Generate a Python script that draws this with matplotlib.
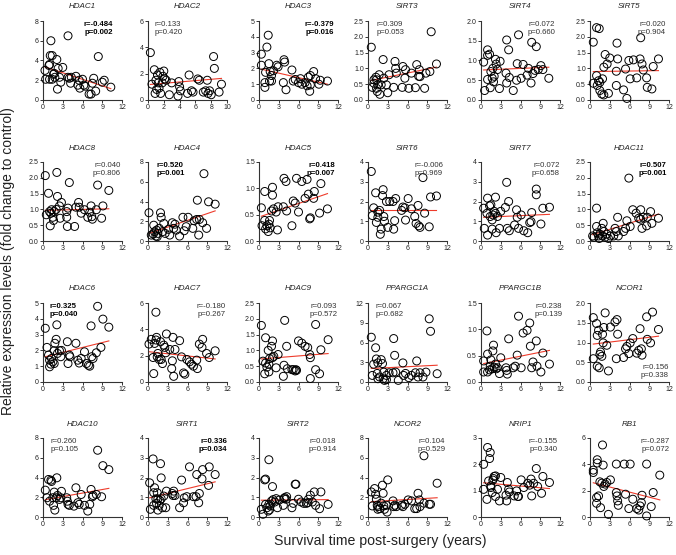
import numpy as np
import matplotlib
matplotlib.use("Agg")
from matplotlib import pyplot as plt
from matplotlib.ticker import FormatStrFormatter

plt.rcParams['font.family'] = ['Liberation Sans', 'DejaVu Sans']

# ---- data (survival years vs fold change) ----
HDAC1_X = [0.3, 0.4, 0.9, 1.0, 1.1, 1.2, 1.4, 1.0, 1.4, 1.6, 1.7, 1.8, 2.1, 2.2, 2.3, 2.5, 2.7, 3.0, 3.8, 3.8,
           4.0, 4.2, 4.3, 5.0, 5.3, 5.6, 5.5, 6.0, 6.4, 7.0, 7.3, 7.5, 7.7, 8.0, 8.4, 9.0, 9.3, 10.3, 6.2]
HDAC1_Y = [3.0, 2.1, 3.5, 3.6, 4.5, 6.0, 4.5, 2.1, 2.1, 2.6, 2.7, 2.3, 4.1, 1.1, 3.2, 2.3, 1.8, 3.3, 6.5, 2.3,
           2.2, 1.7, 2.3, 2.4, 1.5, 1.2, 2.0, 2.1, 1.4, 0.6, 0.6, 1.7, 2.2, 0.9, 4.4, 1.8, 2.0, 1.3, 1.5]

HDAC2_X = [0.3, 0.5, 0.8, 0.9, 1.0, 1.1, 1.2, 1.3, 1.4, 1.5, 1.6, 1.8, 1.9, 2.0, 2.1, 2.3, 2.7, 3.0, 3.8, 3.9,
           4.0, 4.1, 5.0, 5.2, 5.5, 5.7, 6.3, 6.5, 7.3, 7.5, 7.6, 7.8, 8.0, 8.3, 8.4, 9.0, 9.3, 7.0]
HDAC2_Y = [3.6, 1.2, 2.3, 0.5, 1.5, 0.8, 1.9, 1.3, 0.9, 2.1, 0.5, 1.3, 1.8, 2.2, 1.6, 1.5, 0.4, 1.3, 0.3, 1.4,
           1.0, 0.7, 0.5, 1.9, 0.7, 0.6, 1.6, 1.5, 0.7, 1.5, 0.5, 0.7, 0.4, 3.3, 2.4, 0.6, 1.2, 0.6]

HDAC3_X = [0.36, 0.36, 1.4, 1.2, 1.5, 1.0, 0.9, 0.9, 1.6, 1.7, 1.9, 2.2, 2.7, 2.9, 3.8, 3.9, 3.7, 4.1, 5.0, 5.2,
           5.5, 6.0, 6.3, 6.5, 7.0, 7.3, 7.5, 7.8, 7.7, 8.3, 8.6, 9.1, 9.3, 10.4, 1.9, 7.8]
HDAC3_Y = [2.9, 2.2, 4.1, 3.35, 2.3, 1.75, 1.1, 0.8, 1.2, 1.8, 1.55, 1.85, 2.2, 2.1, 2.55, 2.4, 1.1, 0.65, 1.9, 1.2,
           1.3, 1.1, 1.35, 1.0, 1.1, 0.9, 1.45, 1.55, 0.55, 1.8, 1.35, 1.0, 1.25, 1.2, 1.2, 0.95]

SIRT3_X = [0.5, 0.66, 1.2, 1.3, 1.5, 1.4, 1.8, 2.0, 2.3, 2.4, 2.8, 3.2, 3.0, 4.1, 4.2, 4.3, 3.9, 5.2, 5.3, 5.6,
           5.7, 6.2, 6.6, 7.2, 7.4, 7.7, 7.8, 7.9, 8.6, 8.8, 9.4, 9.6, 10.4, 0.9, 0.9, 1.3, 1.7]
SIRT3_Y = [1.67, 0.4, 0.72, 0.64, 0.48, 0.27, 0.18, 0.48, 1.28, 0.69, 0.48, 0.8, 0.23, 1.22, 1.0, 0.85, 0.4, 0.4, 1.06, 0.69,
           0.96, 0.37, 0.85, 0.39, 1.12, 0.75, 0.96, 0.74, 0.37, 0.85, 0.9, 2.16, 1.14, 0.53, 0.64, 0.37, 0.8]

SIRT4_X = [0.4, 0.55, 1.0, 1.0, 1.3, 1.0, 1.4, 1.5, 1.7, 1.8, 1.9, 2.0, 2.2, 2.3, 2.5, 2.9, 2.8, 3.9, 4.2, 3.8,
           3.9, 4.3, 4.9, 5.4, 5.5, 5.7, 6.1, 6.4, 7.0, 7.2, 7.6, 7.7, 7.9, 8.2, 8.4, 8.7, 9.1, 9.4, 10.3]
SIRT4_Y = [0.96, 0.24, 1.27, 1.13, 1.16, 0.52, 0.31, 0.72, 0.55, 0.8, 0.46, 0.6, 1.03, 0.91, 0.77, 0.98, 0.29, 1.52, 1.27, 0.68,
           0.43, 0.57, 0.24, 0.5, 0.92, 1.65, 0.55, 0.9, 0.63, 0.8, 0.43, 1.46, 0.67, 0.75, 1.35, 0.77, 0.87, 0.77, 0.55]

SIRT5_X = [0.5, 1.0, 1.4, 0.5, 1.0, 1.3, 1.1, 1.5, 1.5, 1.8, 2.1, 1.9, 2.1, 2.3, 2.6, 3.0, 2.8, 4.0, 4.1, 4.2,
           4.0, 5.1, 5.4, 5.6, 5.9, 6.1, 6.6, 7.1, 7.6, 7.7, 7.9, 8.1, 8.6, 8.7, 9.4, 9.6, 10.4]
SIRT5_Y = [1.83, 2.29, 2.26, 0.53, 0.77, 0.61, 0.46, 0.56, 0.3, 0.19, 0.16, 0.67, 1.04, 1.44, 1.14, 1.33, 0.21, 0.91, 1.8, 1.3,
           0.46, 0.32, 0.98, 0.05, 1.25, 0.67, 1.27, 0.7, 1.3, 1.97, 1.14, 0.95, 0.7, 0.4, 0.35, 1.06, 1.3]

HDAC8_X = [0.35, 0.5, 0.84, 1.0, 1.1, 1.2, 1.3, 1.5, 1.6, 1.7, 2.0, 2.1, 2.2, 2.5, 2.8, 2.6, 3.6, 3.6, 3.7, 3.8,
           4.0, 4.8, 5.0, 5.4, 5.5, 5.8, 6.3, 6.8, 7.1, 7.3, 7.4, 7.5, 8.1, 8.3, 8.9, 9.1, 10.0]
HDAC8_Y = [2.07, 0.83, 1.51, 0.93, 0.48, 0.88, 0.99, 0.75, 0.65, 0.93, 1.0, 2.17, 1.41, 1.11, 1.22, 0.72, 0.93, 0.75, 0.46, 1.04,
           1.85, 0.46, 1.07, 1.22, 1.07, 0.88, 0.99, 0.75, 0.91, 1.11, 0.77, 0.69, 0.99, 1.77, 0.72, 1.11, 1.6]

HDAC4_X = [0.15, 0.5, 0.87, 0.8, 1.0, 1.2, 1.3, 1.4, 1.5, 1.7, 1.9, 2.0, 2.2, 2.4, 2.6, 3.1, 3.3, 3.7, 3.9, 4.1,
           4.3, 4.8, 5.3, 5.5, 5.8, 6.1, 6.8, 7.0, 7.4, 7.5, 7.8, 7.7, 8.3, 8.5, 8.9, 9.2, 10.2]
HDAC4_Y = [2.86, 0.6, 1.6, 0.7, 0.94, 0.5, 1.1, 0.44, 0.77, 1.28, 2.86, 2.4, 0.94, 1.78, 0.77, 1.18, 0.6, 1.85, 1.28, 1.7,
           1.1, 0.5, 2.4, 1.04, 1.45, 2.4, 1.28, 2.05, 2.18, 4.13, 2.18, 0.6, 1.85, 6.82, 1.28, 3.97, 3.73]

HDAC5_X = [0.36, 0.46, 0.87, 0.87, 1.0, 1.2, 1.4, 1.5, 1.6, 1.7, 1.9, 2.05, 2.05, 2.2, 2.6, 2.8, 2.9, 3.7, 3.8, 4.1,
           4.2, 5.0, 5.2, 5.5, 5.7, 6.0, 6.5, 7.0, 7.3, 7.5, 7.7, 7.8, 8.3, 8.4, 9.2, 9.4, 10.4]
HDAC5_Y = [0.63, 0.29, 0.94, 0.39, 0.23, 0.29, 0.18, 0.32, 0.39, 0.25, 0.57, 0.87, 1.02, 0.61, 0.55, 0.21, 0.65, 0.65, 1.19, 1.13,
           0.57, 0.29, 0.76, 0.72, 1.19, 0.55, 1.13, 0.81, 1.17, 0.89, 0.42, 0.44, 0.81, 0.94, 0.53, 1.09, 0.61]

SIRT6_X = [0.5, 0.66, 0.86, 1.16, 1.27, 1.5, 1.5, 1.77, 1.87, 2.0, 2.2, 2.3, 2.4, 2.5, 2.8, 3.0, 3.3, 3.8, 3.9, 4.05,
           4.2, 5.1, 5.3, 5.6, 5.7, 6.1, 6.6, 7.1, 7.3, 7.6, 7.7, 7.9, 8.35, 8.6, 9.3, 9.5, 10.4]
SIRT6_Y = [3.52, 1.29, 1.68, 2.44, 0.94, 1.2, 1.46, 1.55, 0.34, 0.6, 2.3, 2.6, 1.24, 1.0, 2.0, 0.69, 2.0, 2.0, 0.6, 1.03,
           2.15, 1.55, 1.72, 1.68, 1.06, 2.15, 1.63, 1.24, 0.89, 1.8, 0.77, 0.69, 3.21, 1.41, 0.72, 2.23, 2.28]

SIRT7_X = [0.4, 0.5, 0.9, 1.0, 1.0, 1.3, 1.4, 1.5, 1.7, 1.7, 1.8, 2.0, 2.2, 2.2, 2.3, 2.5, 2.8, 3.0, 3.7, 3.9,
           4.0, 4.2, 4.3, 5.1, 5.4, 5.5, 5.7, 6.1, 6.5, 7.1, 7.4, 7.6, 7.7, 8.4, 8.4, 9.1, 9.4, 10.4]
SIRT7_Y = [1.66, 0.64, 1.4, 2.17, 0.3, 1.78, 1.24, 1.83, 1.07, 0.6, 1.32, 1.5, 2.22, 1.4, 0.42, 1.24, 0.64, 1.5, 1.7, 2.97,
           0.64, 2.0, 0.52, 0.81, 1.58, 1.2, 0.64, 1.32, 0.52, 0.42, 0.93, 0.98, 1.44, 2.63, 2.34, 0.86, 1.66, 1.71]

HDAC11_X = [0.4, 0.6, 1.0, 1.0, 1.1, 1.3, 1.4, 1.5, 1.8, 1.9, 2.0, 2.1, 2.3, 2.55, 2.8, 3.1, 3.6, 3.8, 4.0, 4.2,
            4.3, 5.1, 5.4, 5.6, 5.9, 6.1, 6.5, 7.0, 7.4, 7.7, 7.9, 8.1, 8.6, 8.7, 9.2, 9.4, 10.4, 7.7]
HDAC11_Y = [0.16, 0.12, 1.04, 0.46, 0.26, 0.16, 0.08, 0.22, 0.4, 0.16, 0.56, 0.3, 0.12, 0.22, 0.08, 0.16, 0.16, 0.4, 0.3, 0.75,
            0.16, 0.3, 0.4, 0.64, 1.99, 0.46, 0.99, 0.88, 0.72, 0.99, 0.4, 0.75, 0.48, 0.75, 0.93, 0.56, 0.72, 0.69]

HDAC6_X = [0.35, 0.6, 0.84, 1.0, 1.0, 1.2, 1.3, 1.5, 1.7, 1.7, 1.8, 2.0, 2.1, 2.2, 2.5, 2.7, 2.8, 3.7, 3.8, 4.0,
           4.1, 5.0, 5.3, 5.5, 5.8, 6.3, 6.6, 6.9, 7.1, 7.3, 7.4, 7.6, 8.1, 8.3, 8.8, 9.1, 10.0]
HDAC6_Y = [3.4, 2.19, 1.7, 1.38, 0.96, 1.13, 1.49, 1.28, 1.98, 1.17, 2.45, 2.7, 3.62, 1.81, 1.98, 1.6, 2.0, 2.55, 1.17, 1.7,
           1.6, 2.45, 1.38, 1.2, 1.49, 1.91, 1.17, 1.06, 1.0, 3.55, 1.6, 1.49, 1.85, 4.79, 2.19, 3.98, 3.47]

HDAC7_X = [0.15, 0.5, 0.77, 0.87, 1.0, 1.2, 1.2, 1.3, 1.4, 1.5, 1.7, 1.9, 2.0, 2.2, 2.4, 2.55, 2.7, 2.8, 3.3, 3.6,
           3.7, 3.8, 3.9, 4.1, 4.8, 5.1, 5.4, 5.6, 5.9, 6.3, 6.6, 6.9, 7.4, 7.5, 7.8, 8.2, 8.3, 8.9, 9.3, 10.2]
HDAC7_Y = [2.88, 3.24, 1.86, 0.64, 2.93, 3.19, 5.3, 3.39, 1.91, 2.17, 1.71, 3.06, 1.71, 1.4, 2.8, 2.63, 2.22, 3.65, 2.47, 1.02,
           1.61, 3.39, 0.43, 2.47, 3.14, 1.91, 0.69, 0.59, 1.71, 1.53, 1.35, 1.2, 1.66, 1.02, 2.88, 2.63, 3.24, 2.17, 1.86, 2.37]

HDAC9_X = [0.36, 0.6, 0.87, 1.0, 1.0, 1.2, 1.4, 1.5, 1.5, 1.6, 1.9, 2.05, 2.05, 2.25, 2.6, 2.9, 3.7, 3.8, 3.9, 4.2,
           4.3, 5.0, 5.2, 5.5, 5.6, 5.7, 6.0, 6.5, 7.0, 7.4, 7.7, 7.8, 7.8, 8.6, 8.6, 9.2, 9.4, 10.5]
HDAC9_Y = [1.79, 0.66, 0.26, 1.4, 0.6, 0.47, 1.0, 0.32, 0.56, 0.74, 1.13, 1.3, 0.77, 0.81, 0.45, 0.87, 0.18, 0.53, 1.95, 1.13,
           0.42, 0.39, 0.39, 0.35, 0.39, 0.37, 1.3, 1.23, 1.13, 1.09, 0.87, 0.77, 0.11, 1.82, 0.39, 0.26, 1.02, 1.34]

PPARGC1A_X = [0.5, 0.66, 0.86, 1.16, 1.27, 1.4, 1.5, 1.77, 2.0, 2.2, 2.3, 2.4, 2.5, 2.8, 3.2, 3.8, 3.9, 4.05, 4.2, 4.6,
              5.3, 5.4, 5.7, 6.2, 6.6, 7.2, 7.4, 7.6, 7.9, 8.35, 8.8, 9.3, 9.5, 10.5, 1.5, 2.8]
PPARGC1A_Y = [6.8, 1.0, 2.7, 5.2, 3.5, 1.3, 2.9, 0.76, 3.4, 2.8, 0.5, 1.5, 0.25, 1.0, 1.4, 1.4, 6.6, 4.05, 1.5, 0.25,
              2.9, 1.0, 1.3, 0.66, 1.0, 1.4, 3.2, 0.76, 1.4, 0.76, 1.5, 9.6, 7.7, 1.26, 0.5, 0.35]

PPARGC1B_X = [0.4, 0.4, 0.9, 1.0, 1.0, 1.3, 1.4, 1.5, 1.7, 1.8, 1.9, 2.0, 2.2, 2.3, 2.5, 2.8, 3.0, 3.8, 3.9, 4.0,
              4.2, 4.9, 5.2, 5.5, 5.7, 6.1, 6.4, 7.0, 7.4, 7.5, 7.7, 7.9, 8.4, 8.5, 9.1, 9.4, 10.4]
PPARGC1B_Y = [0.4, 0.19, 0.97, 0.19, 0.53, 0.23, 0.3, 0.42, 0.25, 0.59, 0.7, 0.28, 0.34, 0.25, 0.27, 0.16, 0.46, 0.27, 0.22, 0.15,
              0.82, 0.27, 0.3, 0.51, 1.25, 0.27, 0.93, 0.98, 1.12, 0.68, 0.27, 0.38, 0.78, 0.3, 0.19, 0.55, 0.34]

NCOR1_X = [0.5, 0.5, 1.0, 1.1, 1.1, 1.3, 1.4, 1.5, 1.6, 1.8, 1.9, 2.0, 2.1, 2.3, 2.55, 2.8, 3.1, 3.8, 4.0, 4.1,
           4.2, 5.1, 5.4, 5.6, 5.9, 6.1, 6.5, 7.1, 7.4, 7.6, 7.8, 7.9, 8.6, 8.7, 9.2, 9.5, 10.4]
NCOR1_Y = [1.63, 0.59, 1.48, 1.18, 0.4, 1.31, 0.36, 0.7, 0.76, 0.65, 1.21, 0.99, 1.38, 1.75, 0.93, 0.28, 1.39, 1.52, 0.59, 1.58,
           1.21, 0.62, 0.84, 0.9, 0.72, 0.99, 1.1, 0.73, 0.8, 1.35, 0.84, 0.68, 1.65, 1.08, 0.99, 1.77, 1.33]

HDAC10_X = [0.35, 0.6, 0.84, 1.0, 1.2, 1.3, 1.5, 1.6, 1.7, 1.8, 2.0, 2.1, 2.2, 2.5, 2.7, 2.8, 3.6, 3.7, 3.8, 4.0,
            4.7, 5.0, 5.3, 5.5, 5.8, 6.3, 6.8, 7.1, 7.3, 7.5, 7.6, 8.1, 8.3, 8.9, 9.1, 10.0]
HDAC10_Y = [2.72, 1.95, 3.8, 1.6, 3.73, 3.6, 1.95, 1.18, 2.52, 0.7, 1.95, 3.97, 2.18, 1.78, 1.95, 2.6, 1.95, 1.6, 1.28, 1.18,
            1.1, 2.96, 1.45, 1.28, 2.28, 1.18, 0.6, 1.28, 2.79, 2.05, 2.18, 2.28, 6.76, 2.05, 5.2, 4.8]

SIRT1_X = [0.25, 0.36, 0.77, 0.87, 0.87, 1.0, 1.2, 1.3, 1.4, 1.5, 1.5, 1.7, 1.8, 1.9, 2.0, 2.0, 2.2, 2.4, 2.7, 2.8,
           3.7, 3.8, 3.9, 4.1, 4.8, 5.1, 5.4, 5.5, 5.9, 6.3, 6.9, 7.3, 7.4, 7.7, 7.8, 8.2, 8.3, 9.2, 9.3, 10.2]
SIRT1_Y = [1.73, 0.39, 2.94, 1.23, 0.59, 1.48, 0.92, 0.69, 1.23, 0.92, 0.35, 0.59, 0.84, 2.7, 1.98, 0.92, 0.47, 1.06, 0.47, 1.31,
           1.19, 1.09, 1.31, 1.09, 0.47, 1.87, 0.72, 0.97, 1.03, 2.54, 1.03, 1.03, 2.15, 0.72, 1.19, 1.93, 2.4, 1.6, 2.54, 2.15]

SIRT2_X = [0.36, 0.6, 0.87, 1.0, 1.0, 1.2, 1.4, 1.5, 1.5, 1.6, 1.7, 1.9, 2.05, 2.15, 2.4, 2.6, 2.8, 3.1, 3.7, 3.8,
           3.9, 4.1, 4.2, 5.0, 5.2, 5.5, 5.6, 6.0, 6.4, 6.8, 7.2, 7.4, 7.5, 7.8, 8.1, 8.4, 8.6, 9.2, 9.4, 10.5]
SIRT2_Y = [0.39, 0.14, 1.88, 1.92, 0.64, 0.47, 0.3, 2.9, 0.64, 0.36, 0.56, 0.81, 1.54, 0.88, 0.76, 0.93, 0.47, 0.86, 0.59, 0.93,
           0.98, 0.9, 1.03, 0.47, 0.69, 1.66, 1.66, 0.9, 0.76, 0.69, 0.69, 0.73, 0.9, 1.1, 0.76, 1.27, 0.59, 0.42, 1.27, 0.64]

NCOR2_X = [0.5, 0.66, 1.0, 1.16, 1.27, 1.4, 1.5, 1.5, 1.8, 2.0, 2.2, 2.3, 2.4, 2.5, 2.8, 3.0, 2.9, 3.8, 3.9, 4.05,
           4.3, 5.1, 5.3, 5.6, 6.1, 6.6, 7.1, 7.4, 7.6, 7.8, 7.9, 8.5, 8.5, 9.3, 9.5, 10.5]
NCOR2_Y = [2.54, 1.12, 2.88, 2.3, 1.8, 1.19, 1.05, 0.78, 0.85, 1.4, 3.22, 2.4, 1.12, 0.78, 1.19, 3.76, 0.5, 1.63, 1.05, 1.19,
           1.05, 1.19, 1.05, 1.29, 1.73, 1.63, 0.85, 0.85, 2.4, 1.73, 1.05, 1.4, 6.2, 1.29, 1.29, 3.42]

NRIP1_X = [0.4, 0.4, 0.9, 1.0, 1.16, 1.3, 1.4, 1.5, 1.5, 1.7, 1.8, 1.9, 2.0, 2.2, 2.2, 2.5, 2.8, 3.0, 3.8, 3.9,
           4.0, 4.2, 4.3, 5.05, 5.4, 5.6, 5.7, 6.1, 6.5, 7.1, 7.4, 7.6, 7.7, 8.0, 8.4, 8.6, 9.2, 9.4, 10.4]
NRIP1_Y = [1.05, 2.0, 0.67, 2.64, 1.37, 2.22, 2.45, 1.12, 1.18, 0.93, 1.4, 1.46, 1.54, 1.56, 0.78, 1.05, 0.61, 1.5, 0.83, 0.61,
           1.31, 1.05, 0.95, 0.8, 0.99, 0.78, 0.78, 1.41, 1.12, 1.28, 1.21, 1.44, 0.8, 1.28, 1.84, 1.16, 0.9, 1.54, 1.31]

RB1_X = [0.5, 0.5, 1.0, 1.0, 1.1, 1.1, 1.3, 1.5, 1.6, 1.8, 1.9, 2.0, 2.1, 2.3, 2.55, 2.8, 3.1, 4.0, 4.0, 4.1,
         4.2, 4.3, 5.2, 5.4, 5.9, 6.1, 6.5, 7.1, 7.4, 7.6, 7.8, 7.9, 8.6, 8.6, 9.3, 9.6, 10.6]
RB1_Y = [3.56, 3.38, 1.48, 1.04, 4.35, 4.1, 1.6, 2.67, 0.71, 2.57, 5.47, 3.94, 2.32, 2.5, 2.62, 0.2, 2.82, 4.02, 1.86, 1.6,
         1.22, 0.89, 4.02, 1.73, 0.64, 4.02, 1.35, 0.64, 0.53, 0.84, 1.09, 1.65, 0.08, 4.02, 0.79, 1.86, 3.18]

genes = ["HDAC1", "HDAC2", "HDAC3", "SIRT3", "SIRT4", "SIRT5",
         "HDAC8", "HDAC4", "HDAC5", "SIRT6", "SIRT7", "HDAC11",
         "HDAC6", "HDAC7", "HDAC9", "PPARGC1A", "PPARGC1B", "NCOR1",
         "HDAC10", "SIRT1", "SIRT2", "NCOR2", "NRIP1", "RB1"]
xs = [HDAC1_X, HDAC2_X, HDAC3_X, SIRT3_X, SIRT4_X, SIRT5_X,
      HDAC8_X, HDAC4_X, HDAC5_X, SIRT6_X, SIRT7_X, HDAC11_X,
      HDAC6_X, HDAC7_X, HDAC9_X, PPARGC1A_X, PPARGC1B_X, NCOR1_X,
      HDAC10_X, SIRT1_X, SIRT2_X, NCOR2_X, NRIP1_X, RB1_X]
ys = [HDAC1_Y, HDAC2_Y, HDAC3_Y, SIRT3_Y, SIRT4_Y, SIRT5_Y,
      HDAC8_Y, HDAC4_Y, HDAC5_Y, SIRT6_Y, SIRT7_Y, HDAC11_Y,
      HDAC6_Y, HDAC7_Y, HDAC9_Y, PPARGC1A_Y, PPARGC1B_Y, NCOR1_Y,
      HDAC10_Y, SIRT1_Y, SIRT2_Y, NCOR2_Y, NRIP1_Y, RB1_Y]

r_vals = ["-0.484", "0.133", "-0.379", "0.309", "0.072", "0.020",
          "0.040", "0.520", "0.418", "-0.006", "0.072", "0.507",
          "0.325", "-0.180", "0.093", "0.067", "0.238", "0.156",
          "0.260", "0.336", "0.018", "0.104", "-0.155", "-0.287"]
p_vals = ["0.002", "0.420", "0.016", "0.053", "0.660", "0.904",
          "0.806", "0.001", "0.007", "0.969", "0.658", "0.001",
          "0.040", "0.267", "0.572", "0.682", "0.139", "0.338",
          "0.105", "0.034", "0.914", "0.529", "0.340", "0.072"]

# regression line, y at its left and right end
fit_left = [3.35, 1.18, 1.95, 0.62, 0.76, 0.90,
            0.97, 0.76, 0.47, 1.57, 1.20, 0.20,
            1.60, 2.30, 0.73, 2.05, 0.35, 0.96,
            1.75, 0.97, 0.85, 1.55, 1.30, 2.60]
fit_right = [1.15, 1.64, 1.00, 1.04, 0.83, 0.93,
             1.02, 3.05, 0.90, 1.57, 1.35, 0.85,
             2.60, 1.75, 0.90, 2.55, 0.60, 1.16,
             2.90, 1.78, 0.88, 1.95, 1.08, 1.30]

# axis settings per panel: y max, y step
y_max = [8, 6, 5, 2.5, 2.0, 2.5,
         2.5, 8, 1.5, 4, 4, 2.5,
         5, 6, 2.5, 12, 1.5, 2.0,
         8, 4, 4, 8, 3, 6]
y_step = [2, 2, 1, 0.5, 0.5, 0.5,
          0.5, 2, 0.5, 1, 1, 0.5,
          1, 2, 0.5, 3, 0.5, 0.5,
          2, 1, 1, 2, 1, 2]
# r/p text: 'tr' top right, 'tl' top left, 'br' bottom right, and its x in axes units
text_pos = ["tr", "tl", "tr", "tl", "tr", "tr",
            "tr", "tl", "tr", "tr", "tr", "tr",
            "tl", "tr", "tr", "tl", "tr", "br",
            "tl", "tr", "tr", "tr", "tr", "tr"]
text_x = [0.885, 0.085, 0.95, 0.105, 0.94, 0.96,
          0.98, 0.11, 0.96, 0.95, 1.0, 0.97,
          0.08, 0.98, 0.99, 0.10, 1.03, 1.0,
          0.09, 1.0, 0.98, 0.98, 0.97, 1.01]

W, H = 676, 555
col_left = [43, 148, 259, 368, 481, 590]
row_top = [21, 162, 303, 438]
ax_w, ax_h = 79, 79

fig = plt.figure(figsize=(W / 100, H / 100), dpi=100)

for i, gene in enumerate(genes):
    r, c = divmod(i, 6)
    ax = fig.add_axes([col_left[c] / W, 1 - (row_top[r] + ax_h) / H, ax_w / W, ax_h / H])
    x = np.array(xs[i])
    y = np.array(ys[i])
    xmax = 10 if gene == "HDAC2" else 12
    ax.scatter(x, y, s=33, facecolors='none', edgecolors='black', linewidths=0.7, clip_on=False, zorder=3)
    x0 = x.min()
    x1 = min(x.max(), xmax)
    ax.plot([x0, x1], [fit_left[i], fit_right[i]], color='#ee3b2b', lw=0.8, zorder=2)

    ax.set_xlim(0, xmax)
    ax.set_ylim(0, y_max[i])
    ax.set_xticks(np.arange(0, xmax + 0.01, 2 if xmax == 10 else 3))
    ax.set_yticks(np.arange(0, y_max[i] + 1e-6, y_step[i]))
    if y_step[i] < 1:
        ax.yaxis.set_major_formatter(FormatStrFormatter('%.1f'))
    ax.spines['top'].set_visible(False)
    ax.spines['right'].set_visible(False)
    for s in ['left', 'bottom']:
        ax.spines[s].set_linewidth(0.8)
        ax.spines[s].set_color('#333333')
    ax.tick_params(direction='out', length=2, width=0.7, pad=1, labelsize=5,
                   colors='#333333', labelcolor='#222222')
    ax.set_title(gene, fontsize=5.8, style='italic', pad=9, color='#222222')

    bold = float(p_vals[i]) < 0.05
    txt = "r=" + r_vals[i] + "\np=" + p_vals[i]
    kw = dict(transform=ax.transAxes, fontsize=5.6, linespacing=1.15,
              fontweight='bold' if bold else 'normal',
              color='black' if bold else '#333333')
    if text_pos[i] == "tr":
        ax.text(text_x[i], 1.0, txt, ha='right', va='top', **kw)
    elif text_pos[i] == "tl":
        ax.text(text_x[i], 1.0, txt, ha='left', va='top', **kw)
    else:
        ax.text(text_x[i], 0.04, txt, ha='right', va='bottom', **kw)

fig.text(8 / W, 1 - 261 / H, "Relative expression levels (fold change to control)",
         rotation=90, ha='center', va='center', fontsize=10, color='#222222')
fig.text(380 / W, 1 - 541 / H, "Survival time post-surgery (years)",
         ha='center', va='center', fontsize=10.2, color='#222222')

plt.savefig("out.png", dpi=100)
